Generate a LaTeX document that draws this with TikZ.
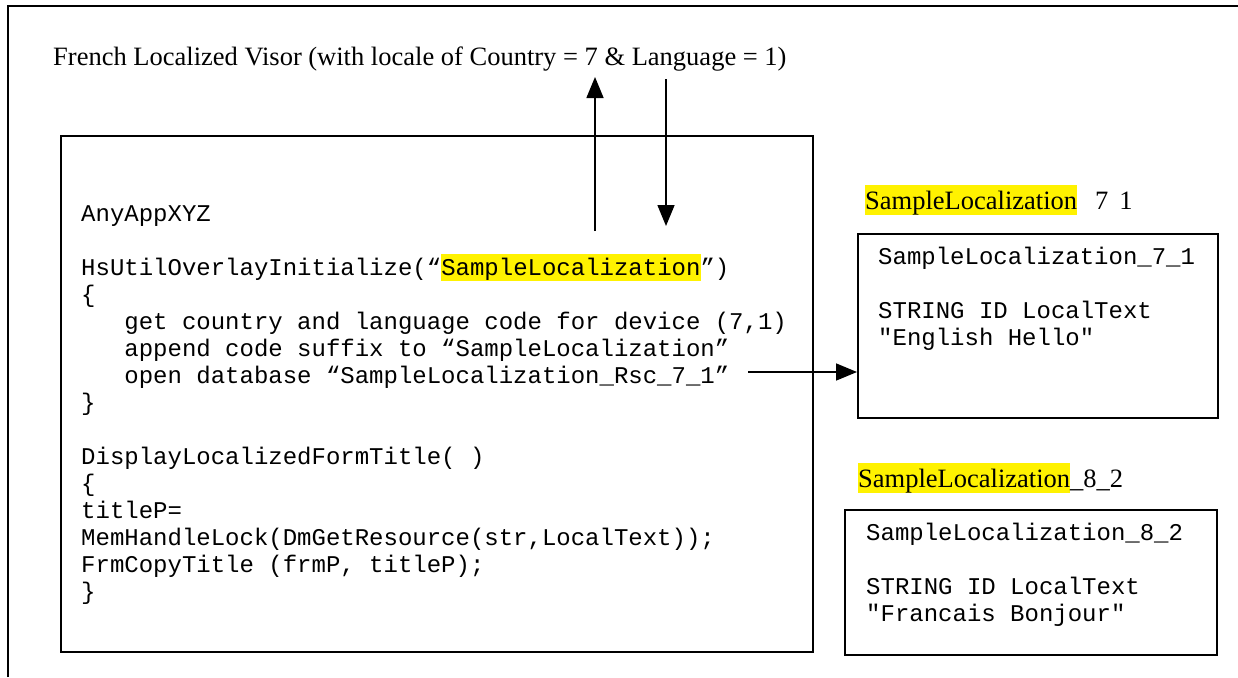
\documentclass[tikz,border=0pt]{standalone}
\usepackage{fontspec}
\setmainfont{Liberation Serif}
\newfontfamily\codefont{Liberation Mono}
\usetikzlibrary{arrows.meta}
\newcommand{\hlcode}[1]{{\setlength{\fboxsep}{0pt}\colorbox{yellow}{\rule[-6pt]{0pt}{27pt}#1}}}
\newcommand{\hllabel}[1]{{\setlength{\fboxsep}{0pt}\colorbox{yellow}{\rule[-5pt]{0pt}{29pt}#1}}}
\tikzset{
  codeline/.style={anchor=base west, inner sep=0pt, font=\codefont\fontsize{24}{27}\selectfont},
  serifline/.style={anchor=base west, inner sep=0pt, font=\fontsize{26.5}{30}\selectfont},
  frame/.style={draw=black, line width=2pt, inner sep=0pt, anchor=north west},
  arr/.style={line width=1.6pt, -{Triangle[length=21pt,width=17pt]}}
}
\begin{document}
\begin{tikzpicture}[x=1pt,y=-1pt]
\useasboundingbox (0,0) rectangle (1238,677);
% outer frame (top and left)
\draw[line width=2.5pt] (8,677) -- (8,6) -- (1238,6);

% title
\node[serifline] (title) at (53,65) {French Localized Visor (with locale of Country = 7 \& Language = 1)};

% main box
\node[frame, minimum width=752pt, minimum height=516pt] (main) at (60,135) {};

\node[codeline] (c1)  at (81,221) {AnyAppXYZ};
\node[codeline] (c2)  at (81,275) {HsUtilOverlayInitialize(“\hlcode{SampleLocalization}”)};
\node[codeline] (c3)  at (81,302) {\{};
\node[codeline] (c4)  at (81,329) {\hspace*{43.2pt}get country and language code for device (7,1)};
\node[codeline] (c5)  at (81,356) {\hspace*{43.2pt}append code suffix to “SampleLocalization”};
\node[codeline] (c6)  at (81,383) {\hspace*{43.2pt}open database “SampleLocalization\_Rsc\_7\_1”};
\node[codeline] (c7)  at (81,410) {\}};
\node[codeline] (c8)  at (81,464) {DisplayLocalizedFormTitle( )};
\node[codeline] (c9)  at (81,491) {\{};
\node[codeline] (c10) at (81,518) {titleP=};
\node[codeline] (c11) at (81,545) {MemHandleLock(DmGetResource(str,LocalText));};
\node[codeline] (c12) at (81,572) {FrmCopyTitle (frmP, titleP);};
\node[codeline] (c13) at (81,599) {\}};

% resource box 1
\node[serifline] (l1) at (865,209) {\hllabel{SampleLocalization}\hspace*{18pt}7\hspace*{11pt}1};
\node[frame, minimum width=360pt, minimum height=184pt] (box1) at (857,233) {};
\node[codeline] (b1a) at (878,264) {SampleLocalization\_7\_1};
\node[codeline] (b1b) at (878,318) {STRING ID LocalText};
\node[codeline] (b1c) at (878,345) {"English Hello"};

% resource box 2
\node[serifline] (l2) at (858,487) {\hllabel{SampleLocalization}\_8\_2};
\node[frame, minimum width=372pt, minimum height=145pt] (box2) at (844,509) {};
\node[codeline] (b2a) at (866,540) {SampleLocalization\_8\_2};
\node[codeline] (b2b) at (866,594) {STRING ID LocalText};
\node[codeline] (b2c) at (866,621) {"Francais Bonjour"};

% arrows
\coordinate (upS) at (595,231);
\coordinate (upE) at (595,77);
\coordinate (dnS) at (666,79);
\coordinate (dnE) at (666,226);
\coordinate (rtS) at (748,372);
\draw[arr] (upS) -- (upE);
\draw[arr] (dnS) -- (dnE);
\draw[arr] (rtS) -- (rtS -| box1.west);
\end{tikzpicture}
\end{document}
